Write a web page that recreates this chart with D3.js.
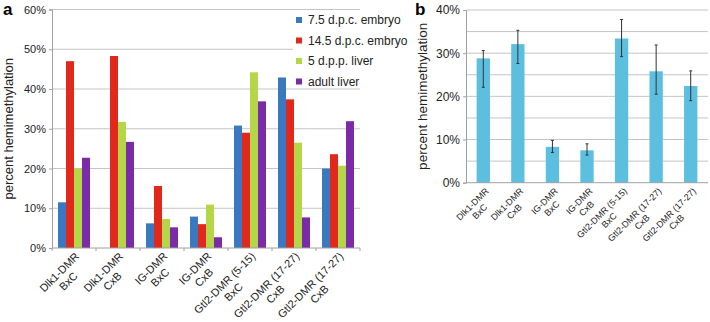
<!DOCTYPE html>
<html>
<head>
<meta charset="utf-8">
<script src="https://cdn.jsdelivr.net/npm/d3@7"></script>
<style>
  body { margin: 0; background: #fff; }
  svg { font-family: "Liberation Sans", Arial, sans-serif; }
</style>
</head>
<body>
<svg id="chart" width="710" height="322"></svg>
<script>
// Categories (two-line tick labels)
const labelTop = ["Dlk1-DMR", "Dlk1-DMR", "IG-DMR", "IG-DMR", "Gtl2-DMR (5-15)", "Gtl2-DMR (17-27)", "Gtl2-DMR (17-27)"];
const labelBottom = ["BxC", "CxB", "BxC", "CxB", "BxC", "CxB", "CxB"];

// Panel a series (percent)
const seriesNames = ["7.5 d.p.c. embryo", "14.5 d.p.c. embryo", "5 d.p.p. liver", "adult liver"];
const embryo75 = [11.5, 0, 6.2, 7.9, 30.8, 42.9, 20.0];
const embryo145 = [47.0, 48.3, 15.6, 6.0, 29.0, 37.4, 23.6];
const liver5dpp = [20.0, 31.7, 7.3, 10.9, 44.2, 26.5, 20.7];
const adultLiver = [22.7, 26.7, 5.2, 2.7, 36.9, 7.7, 31.9];
const seriesColors = ["#3a78c0", "#e0281c", "#b4d648", "#7b2aa8"];

// Panel b: mean with error range (percent)
const hemiMean = [28.8, 32.1, 8.3, 7.5, 33.4, 25.8, 22.4];
const hemiLow = [22.1, 27.6, 7.0, 6.4, 29.2, 20.5, 19.0];
const hemiHigh = [30.6, 35.3, 9.8, 9.0, 37.8, 31.9, 25.9];

// Tick values
const ticksA = [0, 10, 20, 30, 40, 50, 60];
const ticksB = [0, 10, 20, 30, 40];
const gridB = [0, 5, 10, 15, 20, 25, 30, 35, 40];

const svg = d3.select("#chart");
const gridColor = "#c4c4c4";
const axisColor = "#a0a0a0";

// helper for rotated two-line labels, lines centred on each other
function rotatedLabel(x, y, lines, fontSize) {
    const g = svg.append("g")
        .attr("transform", `translate(${x},${y}) rotate(-45)`)
        .attr("font-size", fontSize)
        .attr("fill", "#222");
    const t1 = g.append("text").attr("text-anchor", "end").text(lines[0]);
    const w = t1.node().getComputedTextLength();
    g.append("text")
        .attr("x", -w / 2)
        .attr("y", fontSize * 1.15)
        .attr("text-anchor", "middle")
        .text(lines[1]);
}

// ---------------- Panel a ----------------
const a = { left: 52, right: 360, top: 9.5, bottom: 248 };
const seriesA = [embryo75, embryo145, liver5dpp, adultLiver];

const xA = d3.scaleBand()
    .domain(d3.range(labelTop.length))
    .range([a.left, a.right])
    .paddingInner(12 / 44)
    .paddingOuter(6 / 44);

const xA1 = d3.scaleBand()
    .domain(d3.range(seriesNames.length))
    .range([0, xA.bandwidth()]);

const yA = d3.scaleLinear().domain([0, 60]).range([a.bottom, a.top]);

// gridlines
svg.append("g").selectAll("line")
    .data(ticksA.slice(1))
    .join("line")
    .attr("x1", a.left).attr("x2", a.right)
    .attr("y1", d => yA(d)).attr("y2", d => yA(d))
    .attr("stroke", gridColor);

// bars
const groupsA = svg.append("g").selectAll("g")
    .data(d3.range(labelTop.length))
    .join("g")
    .attr("transform", i => `translate(${xA(i)},0)`);

groupsA.selectAll("rect")
    .data(i => seriesA.map((s, k) => ({ k, v: s[i] })))
    .join("rect")
    .attr("x", d => xA1(d.k))
    .attr("width", xA1.bandwidth())
    .attr("y", d => yA(d.v))
    .attr("height", d => yA(0) - yA(d.v))
    .attr("fill", d => seriesColors[d.k]);

// y axis
const axA = svg.append("g")
    .attr("transform", `translate(${a.left},0)`)
    .call(d3.axisLeft(yA).tickValues(ticksA).tickFormat(d => d + "%").tickSize(3).tickPadding(3))
    .attr("font-family", null)
    .attr("font-size", null);
axA.select(".domain").attr("stroke", axisColor);
axA.selectAll(".tick line").attr("stroke", axisColor);
axA.selectAll("text").attr("font-size", 11).attr("fill", "#222");

// x axis line with boundary ticks
svg.append("line")
    .attr("x1", a.left).attr("x2", a.right)
    .attr("y1", a.bottom).attr("y2", a.bottom)
    .attr("stroke", axisColor);
svg.append("g").selectAll("line")
    .data(d3.range(labelTop.length + 1))
    .join("line")
    .attr("x1", i => a.left + i * xA.step())
    .attr("x2", i => a.left + i * xA.step())
    .attr("y1", a.bottom).attr("y2", a.bottom + 3)
    .attr("stroke", axisColor);

labelTop.forEach((t, i) => {
    rotatedLabel(xA(i) + xA.bandwidth() / 2 + 6, a.bottom + 9, [t, labelBottom[i]], 11);
});

// y title
svg.append("text")
    .attr("transform", `translate(13,${(a.top + a.bottom) / 2}) rotate(-90)`)
    .attr("text-anchor", "middle")
    .attr("font-size", 13)
    .attr("fill", "#222")
    .text("percent hemimethylation");

// legend
const legend = svg.append("g");
legend.append("rect")
    .attr("x", 293).attr("y", 12).attr("width", 118).attr("height", 76)
    .attr("fill", "#fff");
const legRows = legend.selectAll("g")
    .data(seriesNames)
    .join("g")
    .attr("transform", (d, i) => `translate(296,${20 + i * 20.5})`);
legRows.append("rect")
    .attr("x", 0).attr("y", -3).attr("width", 6).attr("height", 6)
    .attr("fill", (d, i) => seriesColors[i]);
legRows.append("text")
    .attr("x", 12).attr("dy", "0.35em")
    .attr("font-size", 12)
    .attr("fill", "#222")
    .text(d => d);

// panel letter
svg.append("text").attr("x", 3).attr("y", 15)
    .attr("font-size", 17).attr("font-weight", "bold").text("a");

// ---------------- Panel b ----------------
const b = { left: 466, right: 708, top: 10, bottom: 182.7 };

const xB = d3.scaleBand()
    .domain(d3.range(labelTop.length))
    .range([b.left, b.right])
    .paddingInner(0.615)
    .paddingOuter(0.3075);

const yB = d3.scaleLinear().domain([0, 40]).range([b.bottom, b.top]);

svg.append("g").selectAll("line")
    .data(gridB.slice(1))
    .join("line")
    .attr("x1", b.left).attr("x2", b.right)
    .attr("y1", d => yB(d)).attr("y2", d => yB(d))
    .attr("stroke", gridColor);

svg.append("g").selectAll("rect")
    .data(hemiMean)
    .join("rect")
    .attr("x", (d, i) => xB(i))
    .attr("width", xB.bandwidth())
    .attr("y", d => yB(d))
    .attr("height", d => yB(0) - yB(d))
    .attr("fill", "#5cbfe0");

// error bars
const err = svg.append("g").attr("stroke", "#333").attr("stroke-width", 1);
hemiMean.forEach((m, i) => {
    const cx = xB(i) + xB.bandwidth() / 2;
    err.append("line").attr("x1", cx).attr("x2", cx)
        .attr("y1", yB(hemiLow[i])).attr("y2", yB(hemiHigh[i]));
    [hemiLow[i], hemiHigh[i]].forEach(v => {
        err.append("line").attr("x1", cx - 1.5).attr("x2", cx + 1.5)
            .attr("y1", yB(v)).attr("y2", yB(v));
    });
});

const axB = svg.append("g")
    .attr("transform", `translate(${b.left},0)`)
    .call(d3.axisLeft(yB).tickValues(ticksB).tickFormat(d => d + "%").tickSize(3).tickPadding(3))
    .attr("font-family", null)
    .attr("font-size", null);
axB.select(".domain").attr("stroke", axisColor);
axB.selectAll(".tick line").attr("stroke", axisColor);
axB.selectAll("text").attr("font-size", 12).attr("fill", "#222");

svg.append("line")
    .attr("x1", b.left).attr("x2", b.right)
    .attr("y1", b.bottom).attr("y2", b.bottom)
    .attr("stroke", axisColor);

labelTop.forEach((t, i) => {
    rotatedLabel(xB(i) + xB.bandwidth() / 2 + 6, b.bottom + 9, [t, labelBottom[i]], 9);
});

svg.append("text")
    .attr("transform", `translate(427,${(b.top + b.bottom) / 2}) rotate(-90)`)
    .attr("text-anchor", "middle")
    .attr("font-size", 13.5)
    .attr("fill", "#222")
    .text("percent hemimethylation");

svg.append("text").attr("x", 415).attr("y", 15)
    .attr("font-size", 17).attr("font-weight", "bold").text("b");
</script>
</body>
</html>
